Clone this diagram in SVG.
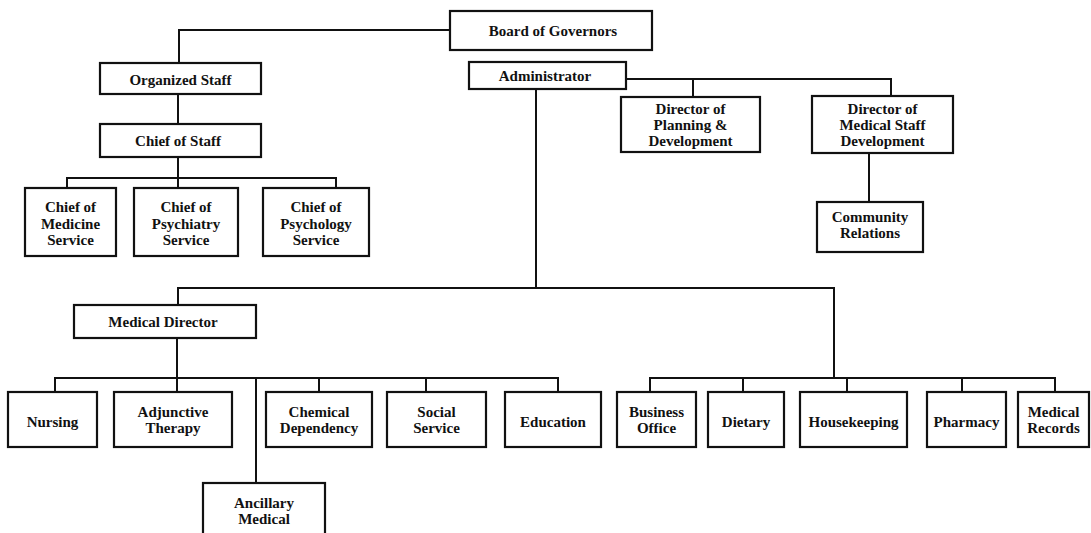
<svg xmlns="http://www.w3.org/2000/svg" width="1091" height="533" viewBox="0 0 1091 533">
  <style>
    .box rect { fill: #fff; stroke: #111; stroke-width: 2.2; }
    .box text { font-family: "Liberation Serif", "Times New Roman", serif; font-weight: bold; font-size: 15px; fill: #111; text-anchor: middle; }
    #connectors path { fill: none; stroke: #111; stroke-width: 2; }
  </style>
  <rect width="1091" height="533" fill="#fff"/>

  <g id="connectors">
    <!-- board to organized staff -->
    <path d="M179,63 V30 H450"/>
    <path d="M178,94 V124"/>
    <!-- chief of staff to service chiefs -->
    <path d="M178,157 V188"/>
    <path d="M67,188 V178 H336 V188"/>
    <!-- administrator to directors -->
    <path d="M626,79 H891 V96"/>
    <path d="M693,79 V97"/>
    <path d="M869,153 V202"/>
    <!-- administrator down to departments -->
    <path d="M536,89 V288"/>
    <path d="M178,305 V288 H834 V378"/>
    <!-- medical director branch -->
    <path d="M177,338 V392"/>
    <path d="M55,392 V378 H558 V392"/>
    <path d="M256,378 V483"/>
    <path d="M319,378 V392"/>
    <path d="M426,378 V392"/>
    <!-- support services branch -->
    <path d="M650,392 V378 H1055 V392"/>
    <path d="M743,378 V392"/>
    <path d="M847,378 V392"/>
    <path d="M962,378 V392"/>
  </g>

  <g id="board" class="box">
    <rect x="450" y="11" width="202" height="39"/>
    <text x="553" y="35.5">Board of Governors</text>
  </g>
  <g id="organized-staff" class="box">
    <rect x="100" y="63" width="161" height="31"/>
    <text x="180.5" y="84.5">Organized Staff</text>
  </g>
  <g id="chief-of-staff" class="box">
    <rect x="100" y="124" width="161" height="33"/>
    <text x="178" y="146">Chief of Staff</text>
  </g>
  <g id="chief-medicine" class="box">
    <rect x="25" y="188" width="91" height="68"/>
    <text x="70.5" y="212">Chief of</text>
    <text x="70.5" y="228.5">Medicine</text>
    <text x="70.5" y="245">Service</text>
  </g>
  <g id="chief-psychiatry" class="box">
    <rect x="134" y="188" width="104" height="68"/>
    <text x="186" y="212">Chief of</text>
    <text x="186" y="228.5">Psychiatry</text>
    <text x="186" y="245">Service</text>
  </g>
  <g id="chief-psychology" class="box">
    <rect x="263" y="188" width="106" height="68"/>
    <text x="316" y="212">Chief of</text>
    <text x="316" y="228.5">Psychology</text>
    <text x="316" y="245">Service</text>
  </g>
  <g id="administrator" class="box">
    <rect x="469" y="62" width="157" height="27"/>
    <text x="545" y="81">Administrator</text>
  </g>
  <g id="dir-planning" class="box">
    <rect x="621" y="97" width="139" height="55"/>
    <text x="690.5" y="113.5">Director of</text>
    <text x="690.5" y="129.5">Planning &amp;</text>
    <text x="690.5" y="145.5">Development</text>
  </g>
  <g id="dir-medical-staff" class="box">
    <rect x="812" y="96" width="141" height="57"/>
    <text x="882.5" y="113.5">Director of</text>
    <text x="882.5" y="129.5">Medical Staff</text>
    <text x="882.5" y="145.5">Development</text>
  </g>
  <g id="community-relations" class="box">
    <rect x="817" y="202" width="106" height="50"/>
    <text x="870" y="221.5">Community</text>
    <text x="870" y="237.5">Relations</text>
  </g>
  <g id="medical-director" class="box">
    <rect x="74" y="305" width="182" height="33"/>
    <text x="163" y="326.5">Medical Director</text>
  </g>
  <g id="nursing" class="box">
    <rect x="8" y="392" width="89" height="55"/>
    <text x="52.5" y="427">Nursing</text>
  </g>
  <g id="adjunctive" class="box">
    <rect x="114" y="392" width="118" height="55"/>
    <text x="173" y="416.5">Adjunctive</text>
    <text x="173" y="432.5">Therapy</text>
  </g>
  <g id="ancillary" class="box">
    <rect x="203" y="483" width="122" height="64"/>
    <text x="264" y="508">Ancillary</text>
    <text x="264" y="523.5">Medical</text>
  </g>
  <g id="chemical" class="box">
    <rect x="266" y="392" width="106" height="55"/>
    <text x="319" y="416.5">Chemical</text>
    <text x="319" y="432.5">Dependency</text>
  </g>
  <g id="social" class="box">
    <rect x="387" y="392" width="99" height="55"/>
    <text x="436.5" y="416.5">Social</text>
    <text x="436.5" y="432.5">Service</text>
  </g>
  <g id="education" class="box">
    <rect x="505" y="392" width="96" height="55"/>
    <text x="553" y="427">Education</text>
  </g>
  <g id="business-office" class="box">
    <rect x="617" y="392" width="79" height="55"/>
    <text x="656.5" y="416.5">Business</text>
    <text x="656.5" y="432.5">Office</text>
  </g>
  <g id="dietary" class="box">
    <rect x="708" y="392" width="76" height="55"/>
    <text x="746" y="427">Dietary</text>
  </g>
  <g id="housekeeping" class="box">
    <rect x="800" y="392" width="107" height="55"/>
    <text x="853.5" y="427">Housekeeping</text>
  </g>
  <g id="pharmacy" class="box">
    <rect x="927" y="392" width="79" height="55"/>
    <text x="966.5" y="427">Pharmacy</text>
  </g>
  <g id="medical-records" class="box">
    <rect x="1018" y="392" width="71" height="55"/>
    <text x="1053.5" y="416.5">Medical</text>
    <text x="1053.5" y="432.5">Records</text>
  </g>
</svg>
